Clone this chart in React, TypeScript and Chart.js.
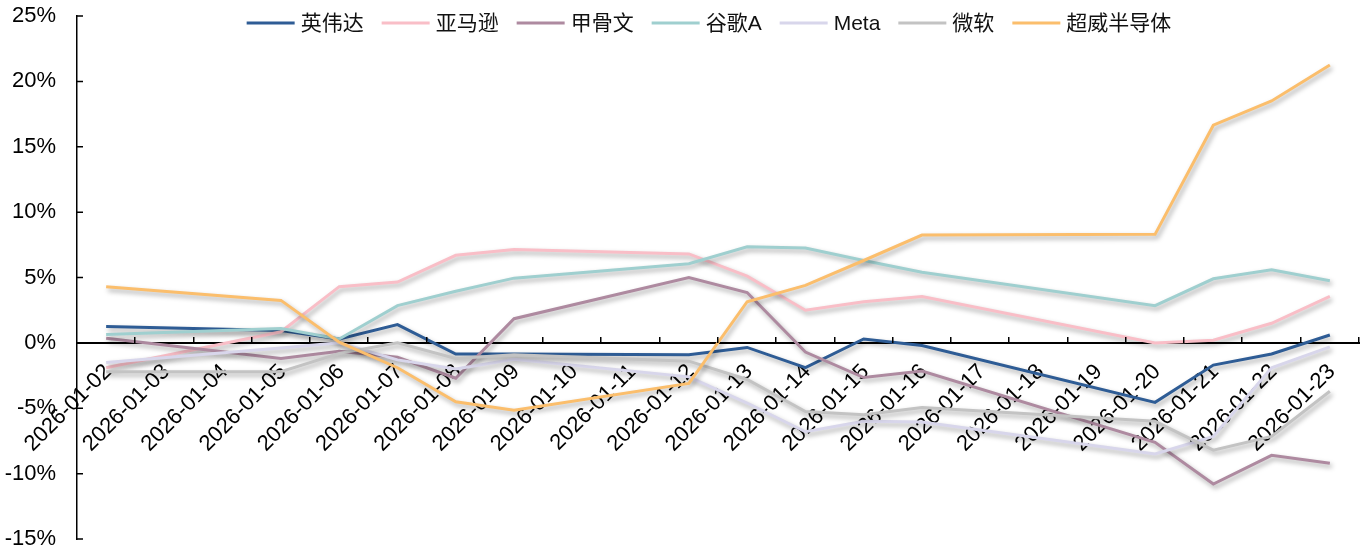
import React, { useEffect, useRef } from "react";
import { Chart, registerables } from "chart.js";

Chart.register(...registerables);

const dates = [
  "2026-01-02", "2026-01-03", "2026-01-04", "2026-01-05", "2026-01-06", "2026-01-07",
  "2026-01-08", "2026-01-09", "2026-01-10", "2026-01-11", "2026-01-12", "2026-01-13",
  "2026-01-14", "2026-01-15", "2026-01-16", "2026-01-17", "2026-01-18", "2026-01-19",
  "2026-01-20", "2026-01-21", "2026-01-22", "2026-01-23",
];

// values in %, null = non-trading day
const nvidia = [1.25, null, null, 0.95, 0.3, 1.4, -0.85, -0.85, null, null, -0.9, -0.35, -1.9, 0.3, -0.2, null, null, null, -4.55, -1.7, -0.85, 0.6];
const amazon = [-1.9, null, null, 0.85, 4.3, 4.65, 6.7, 7.15, null, null, 6.8, 5.1, 2.5, 3.15, 3.55, null, null, null, 0.0, 0.2, 1.5, 3.55];
const oracle = [0.35, null, null, -1.2, -0.65, -1.1, -2.7, 1.85, null, null, 5.0, 3.85, -0.7, -2.65, -2.15, null, null, null, -7.6, -10.8, -8.6, -9.2];
const googleA = [0.65, null, null, 1.1, 0.3, 2.85, 3.95, 4.95, null, null, 6.05, 7.35, 7.25, 6.3, 5.4, null, null, null, 2.85, 4.9, 5.6, 4.75];
const meta = [-1.5, null, null, -0.4, 0.0, -1.3, -2.0, -1.25, null, null, -2.6, -4.6, -6.8, -6.0, -6.05, null, null, null, -8.5, -7.15, -1.9, -0.3];
const microsoft = [-2.2, null, null, -2.2, -0.8, 0.0, -1.2, -0.9, null, null, -1.4, -2.8, -5.25, -5.5, -4.95, null, null, null, -6.0, -8.2, -7.15, -3.7];
const amd = [4.3, null, null, 3.25, 0.05, -1.9, -4.5, -5.15, null, null, -3.1, 3.15, 4.4, 6.3, 8.25, null, null, null, 8.3, 16.65, 18.5, 21.25];

const seriesNames = ["英伟达", "亚马逊", "甲骨文", "谷歌A", "Meta", "微软", "超威半导体"];
const seriesValues = [nvidia, amazon, oracle, googleA, meta, microsoft, amd];
const seriesColors = ["#2E5C95", "#F9BEC7", "#AE8AA0", "#9FCFCF", "#D8D6EB", "#C3C3C3", "#FBBE6C"];

const yMin = -15;
const yMax = 25;
const yStep = 5;

const LATIN = '"Liberation Sans", Arial, "Noto Sans CJK SC", sans-serif';

export default function App() {
  const ref = useRef<HTMLCanvasElement>(null);

  useEffect(() => {
    if (!ref.current) return;

    const shadowPlugin = {
      id: "lineShadow",
      beforeDatasetsDraw(chart: any) {
        const ctx = chart.ctx;
        ctx.save();
        ctx.shadowColor = "rgba(0,0,0,0.35)";
        ctx.shadowBlur = 5;
        ctx.shadowOffsetX = 2;
        ctx.shadowOffsetY = 3;
      },
      afterDatasetsDraw(chart: any) {
        chart.ctx.restore();
      },
    };

    const tickPlugin = {
      id: "innerTicks",
      afterDraw(chart: any) {
        const ctx = chart.ctx;
        const xs = chart.scales.x;
        const ys = chart.scales.y;
        const y0 = ys.getPixelForValue(0);
        const n = dates.length;
        const w = (xs.right - xs.left) / n;
        ctx.save();
        ctx.strokeStyle = "#000";
        ctx.lineWidth = 1.5;
        ctx.beginPath();
        for (let k = 1; k <= n; k++) {
          const x = Math.round(xs.left + k * w) - 0.25;
          ctx.moveTo(x, y0);
          ctx.lineTo(x, y0 - 6);
        }
        ys.ticks.forEach((t: any) => {
          const y = ys.getPixelForValue(t.value);
          ctx.moveTo(ys.right, y);
          ctx.lineTo(ys.right + 6, y);
        });
        ctx.stroke();
        ctx.restore();
      },
    };

    const legendPlugin = {
      id: "topLegend",
      afterDraw(chart: any) {
        const ctx = chart.ctx;
        ctx.save();
        ctx.font = "21px " + LATIN;
        const lineLen = 48;
        const gapText = 6;
        const gapItem = 18;
        const widths = seriesNames.map((s) => ctx.measureText(s).width);
        const total =
          widths.reduce((a, w) => a + lineLen + gapText + w, 0) + gapItem * (seriesNames.length - 1);
        let x = 709 - total / 2;
        const y = 23;
        seriesNames.forEach((name, i) => {
          ctx.strokeStyle = seriesColors[i];
          ctx.lineWidth = 3;
          ctx.beginPath();
          ctx.moveTo(x, y);
          ctx.lineTo(x + lineLen, y);
          ctx.stroke();
          x += lineLen + gapText;
          ctx.fillStyle = "#111";
          ctx.textAlign = "left";
          ctx.textBaseline = "middle";
          ctx.fillText(name, x, y + 1);
          x += widths[i] + gapItem;
        });
        ctx.restore();
      },
    };

    const chart = new Chart(ref.current, {
      type: "line",
      data: {
        labels: dates,
        datasets: seriesNames.map((name, i) => ({
          label: name,
          data: seriesValues[i],
          borderColor: seriesColors[i],
          backgroundColor: seriesColors[i],
          borderWidth: 3,
          pointRadius: 0,
          pointHoverRadius: 0,
          tension: 0,
          spanGaps: true,
          fill: false,
          order: seriesNames.length - i,
        })),
      },
      options: {
        responsive: false,
        animation: false,
        devicePixelRatio: 1,
        layout: { padding: { left: 0, right: 11, top: 16, bottom: 13 } },
        plugins: {
          legend: { display: false },
          tooltip: { enabled: false },
        },
        scales: {
          x: {
            type: "category",
            position: { y: 0 } as any,
            offset: true,
            grid: { display: false, drawTicks: false },
            border: { display: true, color: "#000", width: 2 },
            ticks: {
              autoSkip: false,
              minRotation: 45,
              maxRotation: 45,
              padding: 16,
              labelOffset: 2,
              color: "#000",
              font: { family: LATIN, size: 22 },
            },
          },
          y: {
            min: yMin,
            max: yMax,
            afterFit: (scale: any) => {
              scale.width = 77;
              scale.paddingTop = 0;
              scale.paddingBottom = 0;
            },
            grid: { display: false, drawTicks: false },
            border: { display: true, color: "#000", width: 1.5 },
            ticks: {
              stepSize: yStep,
              padding: 21,
              color: "#000",
              font: { family: LATIN, size: 22 },
              callback: (v: any) => v + "%",
            },
          },
        },
      },
      plugins: [shadowPlugin, tickPlugin, legendPlugin],
    });

    return () => chart.destroy();
  }, []);

  return (
    <div style={{ position: "absolute", left: 0, top: 0, width: 1370, height: 552, background: "#fff" }}>
      <canvas ref={ref} width={1370} height={552} />
    </div>
  );
}
